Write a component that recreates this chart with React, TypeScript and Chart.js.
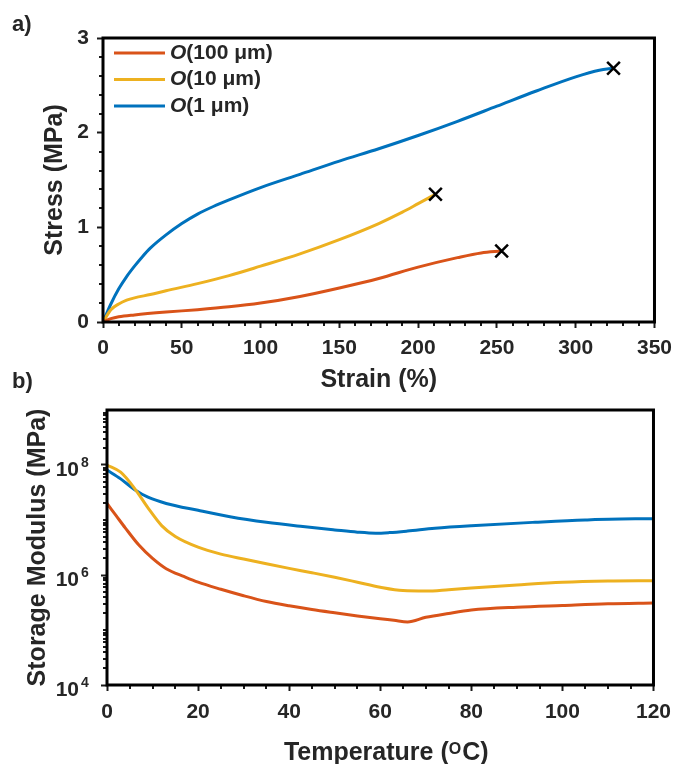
import React, { useEffect, useRef } from 'react';
import { Chart, registerables } from 'chart.js';

Chart.register(...registerables);

const FONT = '"Liberation Sans", Arial, Helvetica, sans-serif';
const TXT = '#262626';
const TICK = '#1a1a1a';
const COLORS = ['#D95319', '#EDB120', '#0072BD'];
const legendNames = ['(100 μm)', '(10 μm)', '(1 μm)']; // each preceded by an italic "O"

// ---------- panel a: stress–strain ----------
const strainRed = [0, 5, 10, 20, 40, 60, 80, 100, 125, 150, 175, 200, 225, 240, 253];
const stressRed = [0, 0.035, 0.055, 0.075, 0.105, 0.13, 0.16, 0.2, 0.27, 0.36, 0.46, 0.58, 0.68, 0.73, 0.75];
const strainYellow = [0, 5, 10, 15, 20, 30, 40, 60, 80, 100, 125, 150, 175, 190, 200, 211];
const stressYellow = [0, 0.13, 0.19, 0.23, 0.255, 0.29, 0.33, 0.405, 0.49, 0.59, 0.72, 0.87, 1.04, 1.16, 1.25, 1.35];
const strainBlue = [0, 5, 10, 15, 20, 25, 30, 40, 50, 60, 70, 80, 100, 125, 150, 175, 200, 225, 250, 275, 300, 315, 324];
const stressBlue = [0, 0.19, 0.35, 0.48, 0.59, 0.69, 0.78, 0.92, 1.04, 1.14, 1.22, 1.29, 1.42, 1.56, 1.7, 1.83, 1.97, 2.12, 2.28, 2.44, 2.59, 2.66, 2.68];
const breakStrain = [253, 211, 324];
const breakStress = [0.75, 1.35, 2.68];
const strainTicks = [0, 50, 100, 150, 200, 250, 300, 350];
const stressTicks = [0, 1, 2, 3];

// ---------- panel b: storage modulus vs temperature ----------
const tempRed = [0, 2, 4, 7, 10, 13, 17, 20, 25, 30, 35, 40, 45, 50, 55, 60, 63, 66, 70, 75, 80, 90, 100, 110, 120];
const modRed = [2.0e7, 1.2e7, 7.2e6, 3.5e6, 2.0e6, 1.3e6, 9.3e5, 7.4e5, 5.5e5, 4.2e5, 3.3e5, 2.75e5, 2.35e5, 2.05e5, 1.8e5, 1.6e5, 1.5e5, 1.4e5, 1.7e5, 2.0e5, 2.3e5, 2.6e5, 2.8e5, 3.0e5, 3.1e5];
const tempYellow = [0, 3, 6, 9, 12, 15, 20, 25, 30, 35, 40, 45, 50, 55, 60, 65, 70, 75, 80, 90, 100, 110, 120];
const modYellow = [1.0e8, 7.4e7, 3.8e7, 1.66e7, 7.9e6, 5.0e6, 3.2e6, 2.4e6, 1.95e6, 1.6e6, 1.32e6, 1.1e6, 9.1e5, 7.4e5, 6.0e5, 5.2e5, 5.1e5, 5.4e5, 5.8e5, 6.6e5, 7.4e5, 7.8e5, 7.9e5];
const tempBlue = [0, 3, 6, 9, 13, 20, 27, 35, 43, 50, 55, 59, 62, 66, 72, 80, 94, 105, 116, 120];
const modBlue = [8.1e7, 5.6e7, 3.6e7, 2.6e7, 2.0e7, 1.5e7, 1.15e7, 9.1e6, 7.6e6, 6.6e6, 6.0e6, 5.75e6, 5.9e6, 6.3e6, 7.1e6, 7.9e6, 9.1e6, 1.0e7, 1.05e7, 1.05e7];
const tempTicks = [0, 20, 40, 60, 80, 100, 120];
const modMajorTicks = [1e4, 1e6, 1e8];

const zip = (xs: number[], ys: number[]) => xs.map((x, i) => ({ x, y: ys[i] }));
const tickFont = { family: FONT, size: 21, weight: 'bold' as const };
const titleFont = { family: FONT, size: 25, weight: 'bold' as const };

function frameMinorPlugin(xMinor: number[], yMinor: number[]) {
  return {
    id: 'frameMinor',
    afterDraw(chart: any) {
      const { ctx, chartArea: a, scales } = chart;
      ctx.save();
      ctx.strokeStyle = TICK;
      ctx.lineWidth = 2;
      ctx.beginPath();
      xMinor.forEach((v) => {
        const px = Math.round(scales.x.getPixelForValue(v));
        ctx.moveTo(px, a.bottom);
        ctx.lineTo(px, a.bottom + 4);
      });
      yMinor.forEach((v) => {
        const py = Math.round(scales.y.getPixelForValue(v));
        ctx.moveTo(a.left, py);
        ctx.lineTo(a.left - 4, py);
      });
      ctx.stroke();
      ctx.strokeStyle = '#000';
      ctx.lineWidth = 3;
      ctx.strokeRect(a.left, a.top, a.right - a.left, a.bottom - a.top);
      ctx.restore();
    },
  };
}

function panelLabel(text: string, x: number, y: number) {
  return {
    id: 'panelLabel',
    afterDraw(chart: any) {
      const { ctx } = chart;
      ctx.save();
      ctx.fillStyle = TXT;
      ctx.font = `bold 22px ${FONT}`;
      ctx.textBaseline = 'middle';
      ctx.textAlign = 'left';
      ctx.fillText(text, x, y);
      ctx.restore();
    },
  };
}

const legendPlugin = {
  id: 'customLegend',
  afterDraw(chart: any) {
    const { ctx, chartArea: a } = chart;
    ctx.save();
    legendNames.forEach((name, i) => {
      const y = a.top + 15 + i * 26.5;
      const x0 = a.left + 11;
      ctx.strokeStyle = COLORS[i];
      ctx.lineWidth = 3;
      ctx.beginPath();
      ctx.moveTo(x0, y);
      ctx.lineTo(x0 + 51, y);
      ctx.stroke();
      ctx.fillStyle = TXT;
      ctx.textBaseline = 'middle';
      ctx.textAlign = 'left';
      ctx.font = `italic bold 21px ${FONT}`;
      ctx.fillText('O', x0 + 56, y);
      const w = ctx.measureText('O').width;
      ctx.font = `bold 21px ${FONT}`;
      ctx.fillText(name, x0 + 56 + w, y);
    });
    ctx.restore();
  },
};

const logLabelsPlugin = {
  id: 'logLabels',
  afterDraw(chart: any) {
    const { ctx, chartArea: a, scales } = chart;
    ctx.save();
    ctx.fillStyle = TXT;
    modMajorTicks.forEach((v) => {
      const py = scales.y.getPixelForValue(v);
      ctx.font = `bold 21px ${FONT}`;
      ctx.textAlign = 'right';
      ctx.textBaseline = 'alphabetic';
      ctx.fillText('10', a.left - 28, py + 11);
      ctx.font = `bold 14px ${FONT}`;
      ctx.textAlign = 'left';
      ctx.fillText(String(Math.round(Math.log10(v))), a.left - 26, py + 2);
    });
    // x-axis title with superscript O
    const main1 = 'Temperature (';
    const sup = 'O';
    const main2 = 'C)';
    ctx.font = `bold 25px ${FONT}`;
    const w1 = ctx.measureText(main1).width;
    const w2 = ctx.measureText(main2).width;
    ctx.font = `bold 16px ${FONT}`;
    const ws = ctx.measureText(sup).width;
    const total = w1 + ws + w2 + 1;
    const cx = (a.left + a.right) / 2 + 6;
    let x = cx - total / 2;
    const base = a.bottom + 74.5;
    ctx.textAlign = 'left';
    ctx.textBaseline = 'alphabetic';
    ctx.font = `bold 25px ${FONT}`;
    ctx.fillText(main1, x, base);
    x += w1;
    ctx.font = `bold 16px ${FONT}`;
    ctx.fillText(sup, x, base - 6);
    x += ws + 1;
    ctx.font = `bold 25px ${FONT}`;
    ctx.fillText(main2, x, base);
    ctx.restore();
  },
};

function minorLinear(min: number, max: number, step: number, majorStep: number) {
  const out: number[] = [];
  for (let v = min + step; v < max; v += step) {
    const r = Math.round(v * 1000) / 1000;
    if (Math.abs(r / majorStep - Math.round(r / majorStep)) > 1e-6) out.push(r);
  }
  return out;
}
function minorLog(minExp: number, maxExp: number) {
  const out: number[] = [];
  for (let e = minExp; e < maxExp; e++) {
    for (let k = 1; k <= 9; k++) {
      const v = k * Math.pow(10, e);
      if (k === 1 && modMajorTicks.includes(v)) continue;
      out.push(v);
    }
  }
  return out;
}

const gridOpts = { drawOnChartArea: false, drawTicks: true, tickLength: 6, tickWidth: 2, tickColor: TICK };

function topConfig(): any {
  const lineDs = (label: string, xs: number[], ys: number[], color: string) => ({
    type: 'line',
    label,
    data: zip(xs, ys),
    borderColor: color,
    backgroundColor: color,
    borderWidth: 3,
    pointRadius: 0,
    cubicInterpolationMode: 'monotone',
    fill: false,
  });
  return {
    type: 'line',
    data: {
      datasets: [
        {
          type: 'scatter',
          label: 'break',
          data: zip(breakStrain, breakStress),
          pointStyle: 'crossRot',
          pointRadius: 9,
          borderColor: '#000',
          backgroundColor: '#000',
          pointBorderWidth: 2.5,
          showLine: false,
        },
        lineDs('O(100 μm)', strainRed, stressRed, COLORS[0]),
        lineDs('O(10 μm)', strainYellow, stressYellow, COLORS[1]),
        lineDs('O(1 μm)', strainBlue, stressBlue, COLORS[2]),
      ],
    },
    options: {
      animation: false,
      responsive: false,
      maintainAspectRatio: false,
      layout: { padding: { left: 40, right: 24, top: 38, bottom: 5 } },
      plugins: { legend: { display: false }, tooltip: { enabled: false } },
      scales: {
        x: {
          type: 'linear',
          min: 0,
          max: 350,
          afterBuildTicks: (s: any) => { s.ticks = strainTicks.map((value) => ({ value })); },
          afterFit: (s: any) => { s.height = 73; },
          ticks: { font: tickFont, color: TXT, padding: 8, maxRotation: 0, autoSkip: false },
          grid: gridOpts,
          border: { display: false },
          title: { display: true, text: 'Strain (%)', font: titleFont, color: TXT, padding: 0 },
        },
        y: {
          type: 'linear',
          min: 0,
          max: 3,
          afterBuildTicks: (s: any) => { s.ticks = stressTicks.map((value) => ({ value })); },
          afterFit: (s: any) => { s.width = 63; },
          ticks: { font: tickFont, color: TXT, padding: 8, autoSkip: false },
          grid: gridOpts,
          border: { display: false },
          title: { display: true, text: 'Stress (MPa)', font: titleFont, color: TXT, padding: 0 },
        },
      },
    },
    plugins: [frameMinorPlugin(minorLinear(0, 350, 10, 50), minorLinear(0, 3, 0.2, 1)), legendPlugin, panelLabel('a)', 12, 25)],
  };
}

function bottomConfig(): any {
  const lineDs = (label: string, xs: number[], ys: number[], color: string) => ({
    label,
    data: zip(xs, ys),
    borderColor: color,
    backgroundColor: color,
    borderWidth: 3,
    pointRadius: 0,
    cubicInterpolationMode: 'monotone',
    fill: false,
  });
  return {
    type: 'line',
    data: {
      datasets: [
        lineDs('O(100 μm)', tempRed, modRed, COLORS[0]),
        lineDs('O(10 μm)', tempYellow, modYellow, COLORS[1]),
        lineDs('O(1 μm)', tempBlue, modBlue, COLORS[2]),
      ],
    },
    options: {
      animation: false,
      responsive: false,
      maintainAspectRatio: false,
      layout: { padding: { left: 23, right: 19, top: 40, bottom: 0 } },
      plugins: { legend: { display: false }, tooltip: { enabled: false } },
      scales: {
        x: {
          type: 'linear',
          min: 0,
          max: 120,
          afterBuildTicks: (s: any) => { s.ticks = tempTicks.map((value) => ({ value })); },
          afterFit: (s: any) => { s.height = 79; },
          ticks: { font: tickFont, color: TXT, padding: 9, maxRotation: 0, autoSkip: false },
          grid: gridOpts,
          border: { display: false },
          title: { display: false },
        },
        y: {
          type: 'logarithmic',
          min: 1e4,
          max: 1e9,
          afterBuildTicks: (s: any) => { s.ticks = modMajorTicks.map((value) => ({ value })); },
          afterFit: (s: any) => { s.width = 84; },
          ticks: { display: false, autoSkip: false },
          grid: gridOpts,
          border: { display: false },
          title: { display: true, text: 'Storage Modulus (MPa)', font: titleFont, color: TXT, padding: 0 },
        },
      },
    },
    plugins: [frameMinorPlugin(minorLinear(0, 120, 5, 20), minorLog(4, 9)), logLabelsPlugin, panelLabel('b)', 12, 12)],
  };
}

export default function App() {
  const topRef = useRef<HTMLCanvasElement>(null);
  const botRef = useRef<HTMLCanvasElement>(null);
  useEffect(() => {
    const c1 = new Chart(topRef.current as HTMLCanvasElement, topConfig());
    const c2 = new Chart(botRef.current as HTMLCanvasElement, bottomConfig());
    return () => {
      c1.destroy();
      c2.destroy();
    };
  }, []);
  return (
    <div style={{ position: 'fixed', left: 0, top: 0, width: 680, height: 764, background: '#fff' }}>
      <canvas ref={topRef} width={680} height={400} style={{ position: 'absolute', left: 0, top: 0 }} />
      <canvas ref={botRef} width={680} height={394} style={{ position: 'absolute', left: 0, top: 370 }} />
    </div>
  );
}
